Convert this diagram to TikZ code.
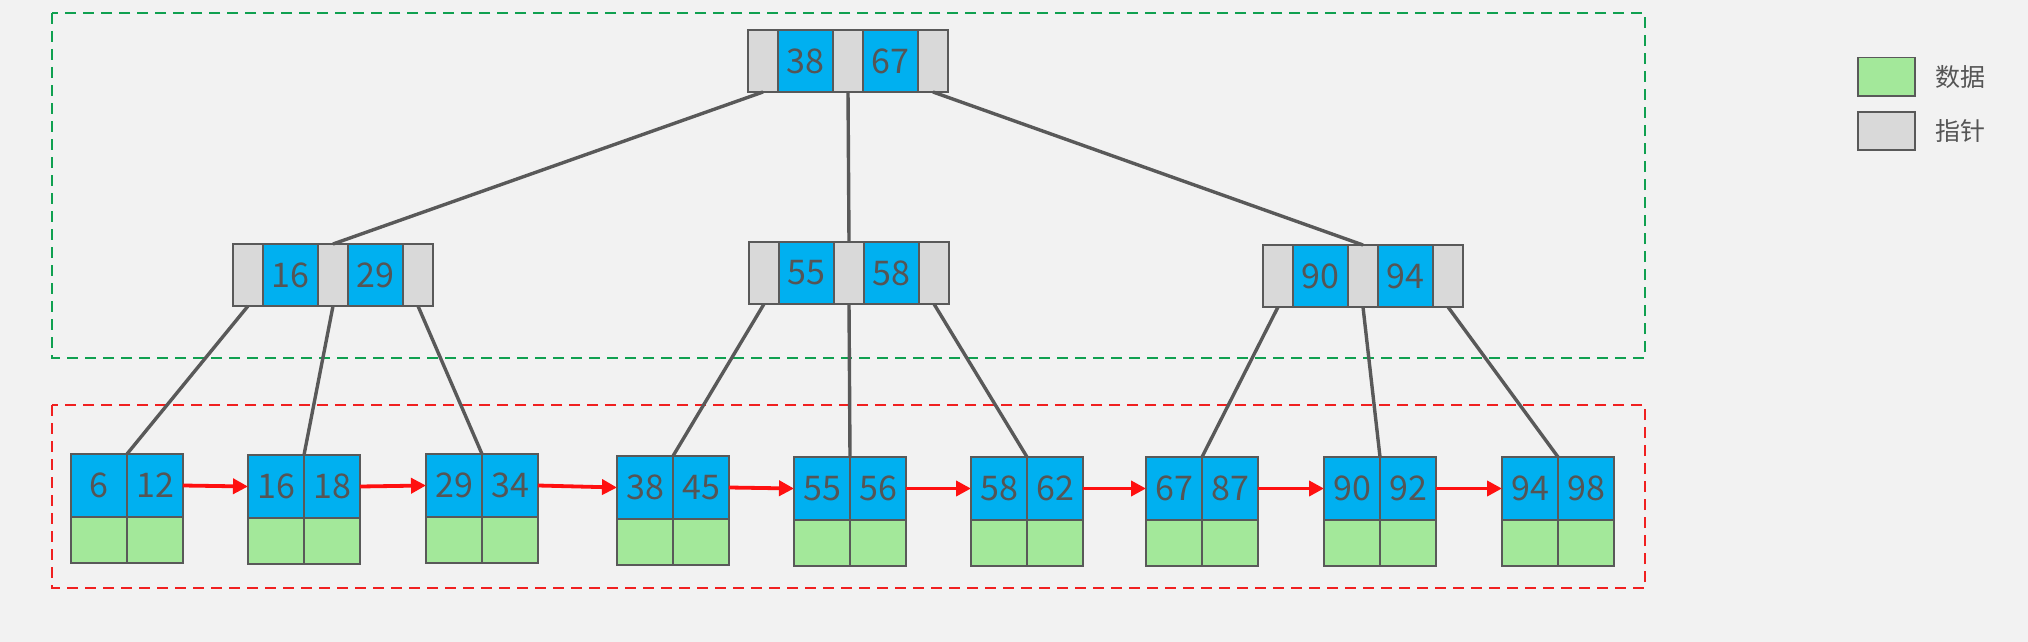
\documentclass[tikz,border=0pt]{standalone}
\usepackage{fontspec}
\setmainfont{Noto Sans CJK SC}
\usetikzlibrary{arrows.meta}
\definecolor{bg}{HTML}{F2F2F2}
\definecolor{keyblue}{HTML}{00B0F0}
\definecolor{ptrgray}{HTML}{D9D9D9}
\definecolor{datagreen}{HTML}{A3E89A}
\definecolor{bordergray}{HTML}{595959}
\definecolor{textgray}{HTML}{555555}
\definecolor{linegray}{HTML}{595959}
\definecolor{boxgreen}{HTML}{10A050}
\definecolor{boxred}{HTML}{F02020}
\definecolor{arrowred}{HTML}{FF1010}
\tikzset{
  cell/.style={draw=bordergray, line width=1.5pt, inner sep=0pt, outer sep=0pt, anchor=north west,
    minimum height=62pt, font=\fontsize{34}{34}\selectfont, text=textgray},
  ptrcell/.style={cell, fill=ptrgray, minimum width=30pt},
  keycell/.style={cell, fill=keyblue, minimum width=55pt},
  lkeycell/.style={cell, fill=keyblue, minimum width=56pt, minimum height=63pt},
  ldatacell/.style={cell, fill=datagreen, minimum width=56pt, minimum height=46pt},
  treeline/.style={draw=linegray, line width=3.4pt},
  linkarrow/.style={draw=arrowred, line width=3.8pt, -{Triangle[length=15pt,width=15pt]}},
  groupbox/.style={line width=2.2pt, dash pattern=on 11pt off 7pt},
  legbox/.style={draw=bordergray, line width=1.5pt, anchor=north west, inner sep=0pt,
    minimum width=57pt, minimum height=38pt},
  legtext/.style={anchor=west, font=\fontsize{25}{25}\selectfont, text=textgray}
}
\newcommand{\inode}[5]{%
  \node[ptrcell] (#1-p1) at (#2,#3) {};
  \node[keycell] (#1-k1) at (#1-p1.north east) {#4};
  \node[ptrcell] (#1-p2) at (#1-k1.north east) {};
  \node[keycell] (#1-k2) at (#1-p2.north east) {#5};
  \node[ptrcell] (#1-p3) at (#1-k2.north east) {};
}
\newcommand{\leafnode}[5]{%
  \node[lkeycell] (#1-k1) at (#2,#3) {#4};
  \node[lkeycell] (#1-k2) at (#1-k1.north east) {#5};
  \node[ldatacell] (#1-d1) at (#1-k1.south west) {};
  \node[ldatacell] (#1-d2) at (#1-k2.south west) {};
}
\begin{document}
\begin{tikzpicture}[x=1pt,y=-1pt]
\useasboundingbox (0,0) rectangle (2028,642);
\fill[bg] (0,0) rectangle (2028,642);

% group boxes
\draw[groupbox, draw=boxgreen] (52,13) rectangle (1645,358);
\draw[groupbox, draw=boxred] (52,405) rectangle (1645,588);

% tree nodes
\inode{root}{748}{30}{38}{67}
\inode{na}{233}{244}{16}{29}
\inode{nb}{749}{242}{55}{58}
\inode{nc}{1263}{245}{90}{94}

\leafnode{l1}{71}{454}{6}{12}
\leafnode{l2}{248}{455}{16}{18}
\leafnode{l3}{426}{454}{29}{34}
\leafnode{l4}{617}{456}{38}{45}
\leafnode{l5}{794}{457}{55}{56}
\leafnode{l6}{971}{457}{58}{62}
\leafnode{l7}{1146}{457}{67}{87}
\leafnode{l8}{1324}{457}{90}{92}
\leafnode{l9}{1502}{457}{94}{98}

% tree connectors
\draw[treeline] (root-p1.south) -- (na-p2.north);
\draw[treeline] (root-p2.south) -- (nb-p2.north);
\draw[treeline] (root-p3.south) -- (nc-p2.north);
\draw[treeline] (na-p1.south) -- (l1-k1.north east);
\draw[treeline] (na-p2.south) -- (l2-k1.north east);
\draw[treeline] (na-p3.south) -- (l3-k1.north east);
\draw[treeline] (nb-p1.south) -- (l4-k1.north east);
\draw[treeline] (nb-p2.south) -- (l5-k1.north east);
\draw[treeline] (nb-p3.south) -- (l6-k1.north east);
\draw[treeline] (nc-p1.south) -- (l7-k1.north east);
\draw[treeline] (nc-p2.south) -- (l8-k1.north east);
\draw[treeline] (nc-p3.south) -- (l9-k1.north east);

% leaf links
\draw[linkarrow] (l1-k2.east) -- (l2-k1.west);
\draw[linkarrow] (l2-k2.east) -- (l3-k1.west);
\draw[linkarrow] (l3-k2.east) -- (l4-k1.west);
\draw[linkarrow] (l4-k2.east) -- (l5-k1.west);
\draw[linkarrow] (l5-k2.east) -- (l6-k1.west);
\draw[linkarrow] (l6-k2.east) -- (l7-k1.west);
\draw[linkarrow] (l7-k2.east) -- (l8-k1.west);
\draw[linkarrow] (l8-k2.east) -- (l9-k1.west);

% legend
\node[legbox, fill=datagreen] (legdata) at (1857,57) {};
\node[legtext] (legdatatext) at ([xshift=16pt]legdata.east) {数据};
\node[legbox, fill=ptrgray] (legptr) at (1857,111) {};
\node[legtext] (legptrtext) at ([xshift=16pt]legptr.east) {指针};
\end{tikzpicture}
\end{document}
